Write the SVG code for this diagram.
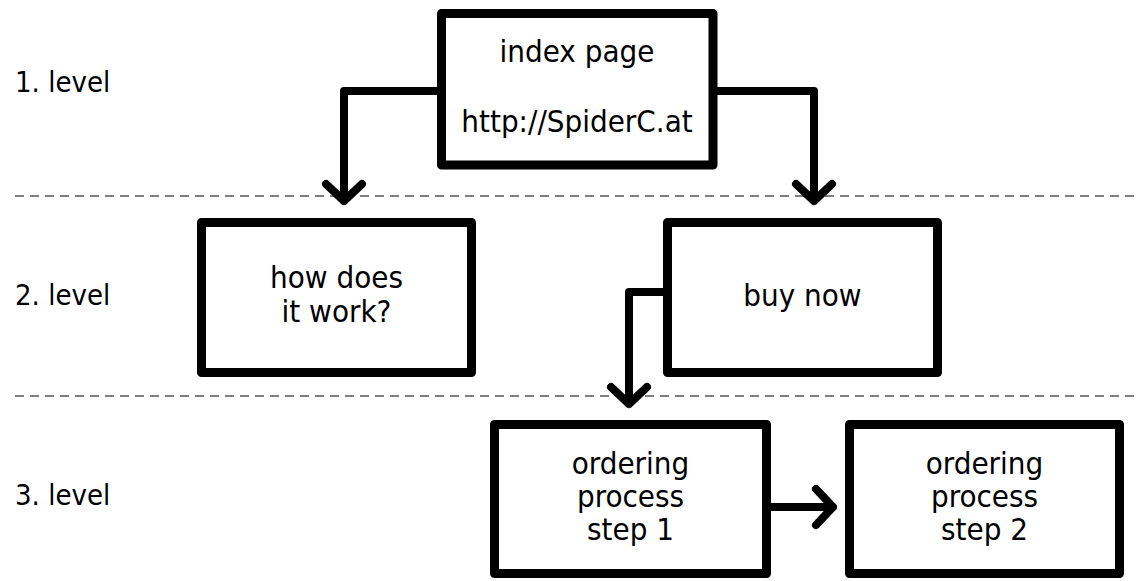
<svg xmlns="http://www.w3.org/2000/svg" width="1146" height="581" viewBox="0 0 1146 581">
<style>
.box{fill:#fff;stroke:#000;stroke-width:9;stroke-linejoin:round}
.t{font-family:"DejaVu Sans Condensed","DejaVu Sans",sans-serif;font-stretch:condensed;font-size:31px;fill:#000;text-anchor:middle}
.lv{font-family:"DejaVu Sans Condensed","DejaVu Sans",sans-serif;font-stretch:condensed;font-size:29px;fill:#000}
.c{fill:none;stroke:#000;stroke-width:8;stroke-linejoin:round;stroke-linecap:round}
.d{stroke:#555;stroke-width:1.5;stroke-dasharray:9 6}
</style>
<rect width="1146" height="581" fill="#fff"/>
<g id="levels">
<line class="d" x1="15" y1="196" x2="1140" y2="196"/>
<line class="d" x1="15" y1="396" x2="1140" y2="396"/>
<text class="lv" x="15" y="92">1. level</text>
<text class="lv" x="15" y="305">2. level</text>
<text class="lv" x="15" y="505">3. level</text>
</g>
<g id="connectors">
<path class="c" d="M441 91 H344 V201 M326 184 L344 201 L362 184"/>
<path class="c" d="M713 91 H814 V201 M796 184 L814 201 L832 184"/>
<path class="c" d="M667 292 H629 V404 M611 387 L629 404 L647 387"/>
<path class="c" d="M771 507 H833 M816 489 L833 507 L816 525"/>
</g>
<g id="index">
<rect class="box" x="441.5" y="13.5" width="271.5" height="151.5"/>
<text class="t" x="577" y="62">index page</text>
<text class="t" x="577" y="132">http://SpiderC.at</text>
</g>
<g id="how">
<rect class="box" x="201.5" y="222.5" width="270" height="150"/>
<text class="t" x="336.5" y="288">how does</text>
<text class="t" x="336.5" y="322">it work?</text>
</g>
<g id="buy">
<rect class="box" x="667.5" y="222.5" width="270" height="150"/>
<text class="t" x="802.5" y="306">buy now</text>
</g>
<g id="step1">
<rect class="box" x="494.5" y="424.5" width="272" height="149"/>
<text class="t" x="630.5" y="474">ordering</text>
<text class="t" x="630.5" y="507">process</text>
<text class="t" x="630.5" y="540">step 1</text>
</g>
<g id="step2">
<rect class="box" x="849.5" y="424.5" width="270" height="149"/>
<text class="t" x="984.5" y="474">ordering</text>
<text class="t" x="984.5" y="507">process</text>
<text class="t" x="984.5" y="540">step 2</text>
</g>
</svg>
